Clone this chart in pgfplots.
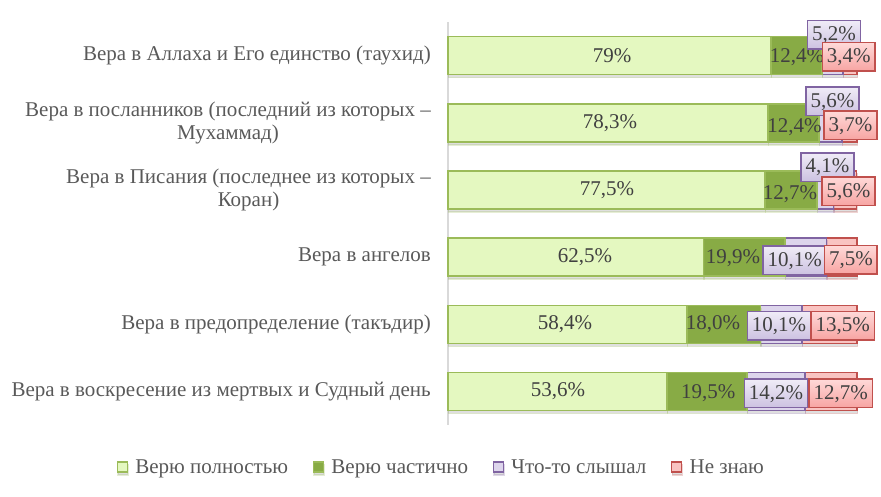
\documentclass[border=0pt]{standalone}
\usepackage{fontspec}
\setmainfont{Liberation Serif}
\usepackage{pgfplots}
\pgfplotsset{compat=1.18}
\usepackage{pgfplotstable}
\usetikzlibrary{shadows}

\definecolor{lg}{HTML}{E4F8C0}
\definecolor{lgb}{HTML}{9BBB59}
\definecolor{dg}{HTML}{88AB45}
\definecolor{pu}{HTML}{DDD5EC}
\definecolor{pub}{HTML}{8064A2}
\definecolor{rd}{HTML}{F9C3C1}
\definecolor{rdb}{HTML}{C0504D}
\definecolor{putop}{HTML}{F0ECF7}
\definecolor{pubot}{HTML}{CCC1E1}
\definecolor{rdtop}{HTML}{FFD9D8}
\definecolor{rdbot}{HTML}{F7A4A2}
\definecolor{txt}{HTML}{404040}
\definecolor{tickc}{HTML}{595959}

\pgfplotsset{sq/.style={legend image code/.code={\draw[##1, line width=1.2pt] (0pt,-5pt) rectangle (10pt,5pt); \path (15pt,0pt);}}}

\pgfplotstableread{
y full part heard dk
0 79   12.4 5.2  3.4
1 78.3 12.4 5.6  3.7
2 77.5 12.7 4.1  5.6
3 62.5 19.9 10.1 7.5
4 58.4 18.0 10.1 13.5
5 53.6 19.5 14.2 12.7
}\data

\pgfplotstableread{
x y l
40.1 0 79
39.6 1 78,3
38.9 2 77,5
33.5 3 62,5
28.6 4 58,4
26.9 5 53,6
}\lfull
\pgfplotstableread{
x y l
85.3 0.03 12,4
84.7 1.07 12,4
83.6 2.07 12,7
69.7 3.02 19,9
64.8 4.0 18,0
63.6 5.02 19,5
}\lpart
\pgfplotstableread{
x y l
94.4 -0.31 5,2
94.0 0.68 5,6
92.8 1.66 4,1
84.8 3.05 10,1
80.9 4.02 10,1
80.2 5.03 14,2
}\lheard
\pgfplotstableread{
x y l
98.0 0.02 3,4
98.4 1.04 3,7
97.9 2.02 5,6
98.5 3.04 7,5
96.5 4.02 13,5
96.0 5.03 12,7
}\ldk

\begin{document}
\begin{tikzpicture}
\path[use as bounding box] (0,0) rectangle (881pt,497pt);
\begin{axis}[
  at={(448pt,72pt)}, anchor=south west,
  scale only axis, width=409pt, height=403pt,
  xbar stacked, bar width=38pt,
  xmin=0, xmax=100, ymin=-0.5, ymax=5.5, y dir=reverse,
  hide x axis,
  axis y line*=left,
  y axis line style={draw=black!15, line width=1.5pt, -},
  ytick={0,...,5},
  yticklabels={
    {Вера в Аллаха и Его единство (таухид)},
    {Вера в посланников (последний из которых –\\Мухаммад)},
    {Вера в Писания (последнее из которых –\\Коран)},
    {Вера в ангелов},
    {Вера в предопределение (такъдир)},
    {Вера в воскресение из мертвых и Судный день}},
  major tick length=0pt,
  yticklabel style={align=center, font=\fontsize{21}{23}\selectfont, text=tickc, inner xsep=0pt, xshift=-17pt},
  legend style={draw=none, at={(-0.016,-0.104)}, anchor=center,
    legend columns=4, font=\fontsize{21}{23}\selectfont, text=tickc,
    /tikz/every even column/.append style={column sep=23pt}},
  legend cell align=left,
  clip=false,
]
\addplot[sq, fill=lg, draw=lgb, line width=1.5pt, drop shadow={shadow xshift=0.5pt, shadow yshift=-3pt, opacity=0.25}] table[x=full, y=y]{\data};
\addplot[sq, fill=dg, draw=lgb, line width=1.5pt, drop shadow={shadow xshift=0.5pt, shadow yshift=-3pt, opacity=0.25}] table[x=part, y=y]{\data};
\addplot[sq, fill=pu, draw=pub, line width=1.5pt, drop shadow={shadow xshift=0.5pt, shadow yshift=-3pt, opacity=0.25}] table[x=heard, y=y]{\data};
\addplot[sq, fill=rd, draw=rdb, line width=1.5pt, drop shadow={shadow xshift=0.5pt, shadow yshift=-3pt, opacity=0.25}] table[x=dk, y=y]{\data};
\legend{Верю полностью, Верю частично, Что-то слышал, Не знаю}
\end{axis}
\begin{axis}[
  at={(448pt,72pt)}, anchor=south west,
  scale only axis, width=409pt, height=403pt,
  xmin=0, xmax=100, ymin=-0.5, ymax=5.5, y dir=reverse,
  hide axis, clip=false,
  nodes near coords={\pgfplotspointmeta\%},
  point meta=explicit symbolic,
  every node near coord/.append style={anchor=center, font=\fontsize{21}{23}\selectfont, text=txt},
]
\addplot[draw=none, mark=none] table[x=x, y=y, meta=l]{\lfull};
\addplot[draw=none, mark=none] table[x=x, y=y, meta=l]{\lpart};
\addplot[draw=none, mark=none, every node near coord/.append style={draw=pub, line width=1.5pt, top color=putop, bottom color=pubot, inner xsep=4.5pt, inner ysep=5.5pt, text height=14.5pt, text depth=3pt}] table[x=x, y=y, meta=l]{\lheard};
\addplot[draw=none, mark=none, every node near coord/.append style={draw=rdb, line width=1.5pt, top color=rdtop, bottom color=rdbot, inner xsep=4.5pt, inner ysep=5.5pt, text height=14.5pt, text depth=3pt}] table[x=x, y=y, meta=l]{\ldk};
\end{axis}
\end{tikzpicture}
\end{document}
